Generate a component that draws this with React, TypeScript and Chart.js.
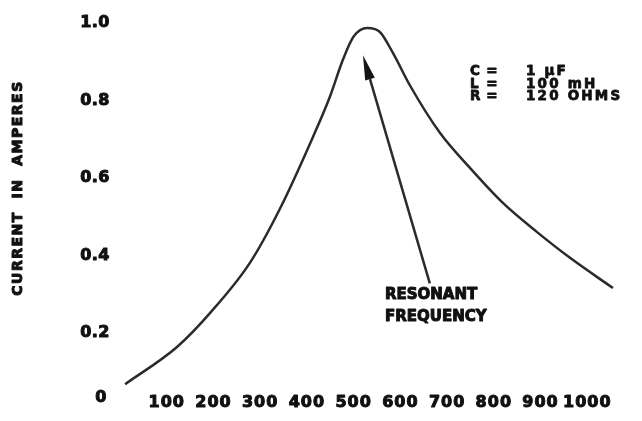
import React, { useEffect, useRef } from "react";
import { Chart, registerables } from "chart.js";

Chart.register(...registerables);

// Frequency (Hz) and current (A)
const FREQ = [11, 122, 193, 278, 342, 413, 449, 477, 500, 529, 555, 584, 620, 685, 749, 820, 892, 963, 1055];
const CURRENT = [0.068, 0.164, 0.252, 0.381, 0.52, 0.706, 0.809, 0.905, 0.965, 0.987, 0.978, 0.923, 0.84, 0.716, 0.626, 0.535, 0.461, 0.394, 0.316];

const X_TICKS = [100, 200, 300, 400, 500, 600, 700, 800, 900, 1000];
const Y_TICKS = [0, 0.2, 0.4, 0.6, 0.8, 1.0];
const Y_TICK_LABELS = ["0", "0.2", "0.4", "0.6", "0.8", "1.0"];

const Y_TITLE = "CURRENT  IN  AMPERES";
const PARAM_NAMES = ["C", "L", "R"];
const PARAM_VALUES = ["1 \u00b5F", "100 mH", "120 OHMS"];
const PARAM_ANCHOR = [749, 0.874];
const ARROW_LABEL = ["RESONANT", "FREQUENCY"];
const ARROW_LABEL_ANCHOR = [567, 0.298];
const ARROW_FROM = [663, 0.328];
const ARROW_TO = [520, 0.917];

const INK = "#111111";
const LINE = "#2b2b2b";
const FONT = "'DejaVu Sans', sans-serif";

function heavyText(ctx: CanvasRenderingContext2D, t: string, x: number, y: number) {
  ctx.fillText(t, x, y);
  ctx.strokeText(t, x, y);
}

const textPlugin = {
  id: "textPlugin",
  afterDraw(chart: any) {
    const ctx = chart.ctx as CanvasRenderingContext2D;
    const xs = chart.scales.x;
    const ys = chart.scales.y;
    const area = chart.chartArea;
    ctx.save();
    ctx.fillStyle = INK;
    ctx.strokeStyle = INK;
    ctx.lineWidth = 1;
    ctx.lineJoin = "round";

    // Y tick labels
    ctx.font = `bold 16px ${FONT}`;
    (ctx as any).letterSpacing = "0.5px";
    ctx.textAlign = "right";
    ctx.textBaseline = "middle";
    Y_TICKS.forEach((v, i) => {
      let py = ys.getPixelForValue(v);
      py = Math.min(py, area.bottom - 13);
      const px = i === 0 ? area.left - 13 : area.left - 10;
      heavyText(ctx, Y_TICK_LABELS[i], px, py);
    });

    // X tick labels
    ctx.font = `bold 16px ${FONT}`;
    (ctx as any).letterSpacing = "1px";
    ctx.textAlign = "center";
    X_TICKS.forEach((v) => {
      heavyText(ctx, String(v), xs.getPixelForValue(v), area.bottom - 8);
    });

    // Y axis title
    ctx.save();
    ctx.translate(18, 188);
    ctx.rotate(-Math.PI / 2);
    ctx.font = `bold 14px ${FONT}`;
    (ctx as any).letterSpacing = "1.5px";
    ctx.textAlign = "center";
    ctx.textBaseline = "middle";
    heavyText(ctx, Y_TITLE, 0, 0);
    ctx.restore();

    // Circuit parameters
    ctx.font = `bold 13.5px ${FONT}`;
    (ctx as any).letterSpacing = "2.2px";
    ctx.lineWidth = 0.8;
    ctx.textBaseline = "middle";
    const bx = xs.getPixelForValue(PARAM_ANCHOR[0]);
    const by = ys.getPixelForValue(PARAM_ANCHOR[1]);
    PARAM_NAMES.forEach((n, i) => {
      const yy = by + i * 12.5;
      ctx.textAlign = "left";
      heavyText(ctx, n, bx, yy);
      ctx.textAlign = "center";
      heavyText(ctx, "=", bx + 23, yy);
      ctx.textAlign = "left";
      heavyText(ctx, PARAM_VALUES[i], bx + 56, yy);
    });

    // Arrow
    const x0 = xs.getPixelForValue(ARROW_FROM[0]);
    const y0 = ys.getPixelForValue(ARROW_FROM[1]);
    const x1 = xs.getPixelForValue(ARROW_TO[0]);
    const y1 = ys.getPixelForValue(ARROW_TO[1]);
    const dx = x0 - x1;
    const dy = y0 - y1;
    const len = Math.hypot(dx, dy);
    const ux = dx / len;
    const uy = dy / len;
    const headLen = 25;
    const headHalf = 5;
    const bxh = x1 + ux * headLen;
    const byh = y1 + uy * headLen;
    ctx.strokeStyle = LINE;
    ctx.lineWidth = 2.5;
    ctx.beginPath();
    ctx.moveTo(x0, y0);
    ctx.lineTo(bxh, byh);
    ctx.stroke();
    ctx.fillStyle = "#151515";
    ctx.beginPath();
    ctx.moveTo(x1, y1);
    ctx.lineTo(bxh - uy * headHalf, byh + ux * headHalf);
    ctx.lineTo(bxh + uy * headHalf, byh - ux * headHalf);
    ctx.closePath();
    ctx.fill();

    // Arrow label
    ctx.fillStyle = INK;
    ctx.strokeStyle = INK;
    ctx.lineWidth = 1;
    ctx.font = `bold 15px ${FONT}`;
    (ctx as any).letterSpacing = "0px";
    ctx.textAlign = "left";
    ctx.textBaseline = "middle";
    const lx = xs.getPixelForValue(ARROW_LABEL_ANCHOR[0]);
    const ly = ys.getPixelForValue(ARROW_LABEL_ANCHOR[1]);
    ARROW_LABEL.forEach((t, i) => heavyText(ctx, t, lx, ly + i * 22));

    ctx.restore();
  },
};

export default function App() {
  const ref = useRef<HTMLCanvasElement | null>(null);
  useEffect(() => {
    document.body.style.margin = "0";
    const canvas = ref.current!;
    const chart = new Chart(canvas, {
      type: "line",
      data: {
        datasets: [
          {
            data: FREQ.map((f, i) => ({ x: f, y: CURRENT[i] })),
            borderColor: LINE,
            borderWidth: 2.5,
            pointRadius: 0,
            fill: false,
            cubicInterpolationMode: "monotone",
          },
        ],
      },
      options: {
        responsive: false,
        animation: false,
        events: [],
        layout: { padding: { left: 120, right: 8, top: 23, bottom: 10.5 } },
        plugins: { legend: { display: false }, tooltip: { enabled: false } },
        scales: {
          x: { type: "linear", min: 0, max: 1100, display: false },
          y: { type: "linear", min: 0, max: 1, display: false },
        },
      },
      plugins: [textPlugin],
    });
    return () => chart.destroy();
  }, []);
  return (
    <div style={{ position: "absolute", left: 0, top: 0, width: 642, height: 421, background: "#fff" }}>
      <canvas ref={ref} width={642} height={421} />
    </div>
  );
}
